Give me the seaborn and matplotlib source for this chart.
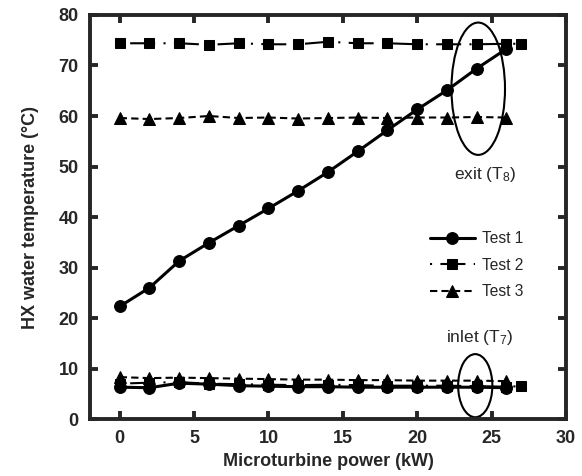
import matplotlib
matplotlib.use('Agg')
import matplotlib.pyplot as plt
import seaborn as sns
from matplotlib.patches import Ellipse

# microturbine power (kW)
power_t1 = [0, 2, 4, 6, 8, 10, 12, 14, 16, 18, 20, 22, 24, 26]
power_t2 = [0, 2, 4, 6, 8, 10, 12, 14, 16, 18, 20, 22, 24, 26, 27]
power_t3 = [0, 2, 4, 6, 8, 10, 12, 14, 16, 18, 20, 22, 24, 26]

# exit temperature T8 (degC)
exit_t1 = [22.3, 26.0, 31.3, 34.9, 38.3, 41.7, 45.2, 48.9, 53.0, 57.2, 61.3, 65.1, 69.4, 73.3]
exit_t2 = [74.4, 74.4, 74.4, 74.1, 74.4, 74.2, 74.2, 74.7, 74.4, 74.4, 74.2, 74.2, 74.2, 74.3, 74.3]
exit_t3 = [59.6, 59.4, 59.6, 60.0, 59.6, 59.7, 59.5, 59.6, 59.7, 59.6, 59.7, 59.7, 59.8, 59.7]

# inlet temperature T7 (degC)
inlet_t1 = [6.3, 6.2, 7.1, 6.9, 6.6, 6.5, 6.4, 6.4, 6.3, 6.3, 6.3, 6.3, 6.3, 6.2]
inlet_t2 = [7.0, 7.2, 7.3, 7.0, 6.9, 6.8, 6.7, 6.8, 6.7, 6.6, 6.6, 6.6, 6.5, 6.4, 6.5]
inlet_t3 = [8.3, 8.1, 8.2, 8.1, 8.0, 7.9, 7.8, 7.8, 7.7, 7.7, 7.6, 7.6, 7.6, 7.5]

sns.set_style('ticks')
plt.rcParams['font.family'] = ['Liberation Sans', 'DejaVu Sans']
plt.rcParams['mathtext.fontset'] = 'custom'
plt.rcParams['mathtext.rm'] = 'Liberation Sans'
plt.rcParams['mathtext.it'] = 'Liberation Sans'

fig = plt.figure(figsize=(5.82, 4.76), dpi=100)
ax = fig.add_axes([0.1546, 0.1197, 0.8179, 0.8488])

dash_t2 = (0, (1, 4, 12, 4))
dash_t3 = (0, (3.5, 2))

styles = [
    ('Test 1', power_t1, exit_t1, inlet_t1, 'o', 8.5, '-', 2.2),
    ('Test 2', power_t2, exit_t2, inlet_t2, 's', 7.5, dash_t2, 1.5),
    ('Test 3', power_t3, exit_t3, inlet_t3, '^', 8.0, dash_t3, 1.5),
]
for name, xs, ex, inl, mk, ms, ls, lw in styles:
    sns.lineplot(x=xs, y=ex, ax=ax, color='black', marker=mk, markersize=ms,
                 markeredgecolor='black', linestyle=ls, linewidth=lw, label=name)
    sns.lineplot(x=xs, y=inl, ax=ax, color='black', marker=mk, markersize=ms,
                 markeredgecolor='black', linestyle=ls, linewidth=lw, label='_nolegend_')

ax.add_patch(Ellipse((24.1, 65.4), 3.6, 26.2, fill=False, edgecolor='black', lw=1.5))
ax.add_patch(Ellipse((23.9, 6.6), 2.3, 12.5, fill=False, edgecolor='black', lw=1.5))
ax.text(24.6, 48.5, 'exit (T$_8$)', ha='center', va='center', fontsize=12.5)
ax.text(24.2, 16.2, 'inlet (T$_7$)', ha='center', va='center', fontsize=12.5)

ax.set_xlim(-2, 30)
ax.set_ylim(0, 80)
ax.set_xticks(range(0, 31, 5))
ax.set_yticks(range(0, 81, 10))
ax.tick_params(direction='in', length=6, width=2.8, top=True, right=True,
               labelsize=13, pad=8)
for lab in ax.get_xticklabels() + ax.get_yticklabels():
    lab.set_fontweight('bold')
for sp in ax.spines.values():
    sp.set_linewidth(2.8)
    sp.set_visible(True)

ax.set_xlabel('Microturbine power (kW)', fontsize=13, fontweight='bold', labelpad=4)
ax.set_ylabel('HX water temperature (°C)', fontsize=13, fontweight='bold', labelpad=14)

ax.legend(loc='upper left', bbox_to_anchor=(0.714, 0.465), frameon=False,
          borderpad=0, borderaxespad=0,
          fontsize=11.2, handlelength=2.9, handletextpad=0.45, labelspacing=0.75)

plt.savefig('out.png', dpi=100)
